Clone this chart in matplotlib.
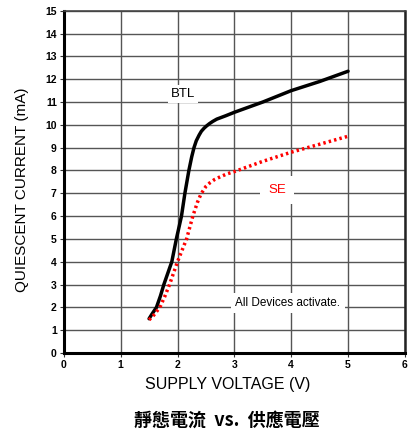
import matplotlib
matplotlib.use("Agg")
import matplotlib.pyplot as plt

btl_v = [1.5, 1.55, 1.63, 1.70, 1.76, 1.83, 1.90, 1.98, 2.07, 2.13, 2.20, 2.25, 2.29, 2.33, 2.38, 2.42, 2.47, 2.51, 2.56, 2.62, 2.69, 2.85, 3.0, 3.5, 4.0, 4.5, 5.0]
btl_i = [1.5, 1.7, 2.0, 2.5, 3.0, 3.5, 4.0, 5.0, 6.0, 7.0, 8.0, 8.6, 9.0, 9.3, 9.55, 9.72, 9.86, 9.95, 10.05, 10.15, 10.25, 10.4, 10.55, 11.0, 11.5, 11.9, 12.35]
se_v = [1.5, 1.58, 1.69, 1.78, 1.86, 1.93, 2.0, 2.08, 2.16, 2.27, 2.35, 2.41, 2.46, 2.5, 2.57, 2.65, 2.75, 2.87, 3.0, 3.5, 4.0, 4.5, 5.0]
se_i = [1.45, 1.65, 2.0, 2.5, 3.0, 3.5, 4.0, 4.5, 5.0, 6.0, 6.6, 6.95, 7.15, 7.3, 7.46, 7.6, 7.72, 7.85, 7.95, 8.4, 8.8, 9.15, 9.5]

x_ticks = [0, 1, 2, 3, 4, 5, 6]
y_ticks = list(range(0, 16))

fig = plt.figure(figsize=(4.17, 4.32), dpi=100)
ax = fig.add_axes([0.153, 0.183, 0.818, 0.792])
ax.set_xlim(0, 6)
ax.set_ylim(0, 15)
ax.set_xticks(x_ticks)
ax.set_yticks(y_ticks)
ax.grid(True, color="#555555", linewidth=1.0)
ax.set_axisbelow(True)
for lbl in ax.get_xticklabels() + ax.get_yticklabels():
    lbl.set_fontweight("bold")
    lbl.set_fontsize(7.5)
    lbl.set_family("Liberation Sans")
ax.tick_params(length=3, width=0.8, pad=2, color="#333333")
ax.spines["left"].set_linewidth(2.2)
ax.spines["bottom"].set_linewidth(2.2)
ax.spines["top"].set_color("#444444")
ax.spines["top"].set_linewidth(1.2)
ax.spines["right"].set_color("#222222")
ax.spines["right"].set_linewidth(1.8)

ax.plot(btl_v, btl_i, color="black", linewidth=2.5, solid_capstyle="round", solid_joinstyle="round")
ax.plot(se_v, se_i, color="red", linewidth=2.5, linestyle=(0, (0.7, 0.9)))

bbox = dict(facecolor="white", edgecolor="none", pad=2)
ax.text(2.1, 11.35, "BTL", fontsize=9.5, family="Liberation Sans", ha="center", va="center", bbox=bbox)
ax.text(3.75, 7.15, "SE", fontsize=9.5, family="Liberation Sans", color="red", ha="center", va="center",
        bbox=dict(facecolor="white", edgecolor="none", pad=6))
ax.text(3.02, 2.2, "All Devices activate.", fontsize=8.5, family="Liberation Sans", ha="left", va="center",
        bbox=dict(facecolor="white", edgecolor="none", pad=3))

fig.text(0.547, 0.109, "SUPPLY VOLTAGE (V)", fontsize=11.5, family="Liberation Sans", ha="center", va="center")
fig.text(0.053, 0.560, "QUIESCENT CURRENT (mA)", fontsize=11, family="Liberation Sans", ha="center", va="center",
         rotation=90)

fig.text(0.544, 0.027, "靜態電流  vs.  供應電壓", fontsize=13, fontweight="bold",
         family=["Noto Sans CJK TC", "DejaVu Sans"], ha="center", va="center")

fig.savefig("out.png", dpi=100)
